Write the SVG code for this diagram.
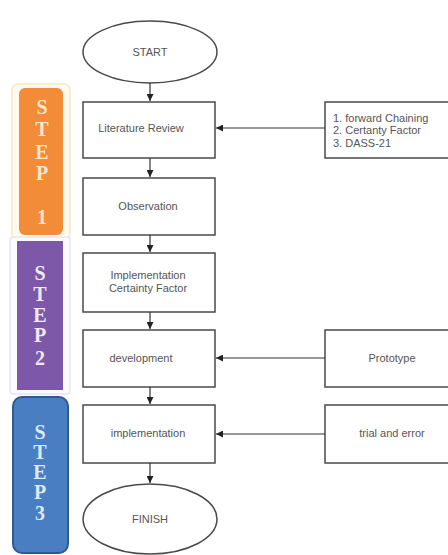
<svg xmlns="http://www.w3.org/2000/svg" width="448" height="555" viewBox="0 0 448 555">
<defs>
<style>
.box{fill:#fff;stroke:#4a4a4a;stroke-width:1.5}
.t{font-family:"Liberation Sans",Arial,sans-serif;font-size:11px;fill:#555;text-anchor:middle}
.tl{font-family:"Liberation Sans",Arial,sans-serif;font-size:11px;fill:#555}
.c{fill:none;stroke:#333;stroke-width:1.2}
.st{font-family:"Liberation Serif","Times New Roman",serif;font-size:20px;font-weight:bold;text-anchor:middle}
</style>
<marker id="ah" viewBox="0 0 10 10" refX="10" refY="5" markerWidth="7" markerHeight="7" orient="auto-start-reverse" markerUnits="userSpaceOnUse">
<path d="M0,0 L10,5 L0,10 z" fill="#222"/>
</marker>
</defs>
<rect width="448" height="555" fill="#fff"/>

<g id="step1">
<rect x="12" y="84" width="58" height="155" rx="6" fill="#fffaf0" stroke="#fbecd0" stroke-width="2"/>
<rect x="19" y="88" width="44" height="147" rx="6" fill="#f28c38"/>
<g class="st" fill="#fbe6cc">
<text x="42" y="114">S</text><text x="42" y="136">T</text><text x="42" y="159">E</text><text x="42" y="180">P</text><text x="42" y="224">1</text>
</g>
</g>
<g id="step2">
<rect x="10" y="237" width="60" height="157" rx="3" fill="#fbfbfd" stroke="#e6e6ee" stroke-width="1.5"/>
<rect x="17" y="241" width="46" height="149" fill="#7d58a8"/>
<g class="st" fill="#f2e8f7">
<text x="40" y="280">S</text><text x="40" y="301">T</text><text x="40" y="322">E</text><text x="40" y="342">P</text><text x="40" y="365">2</text>
</g>
</g>
<g id="step3">
<rect x="13" y="397" width="55" height="156" rx="9" fill="#4a7ec2" stroke="#2f5a8c" stroke-width="2"/>
<g class="st" fill="#dde9f6">
<text x="40" y="439">S</text><text x="40" y="459">T</text><text x="40" y="479">E</text><text x="40" y="499">P</text><text x="40" y="520">3</text>
</g>
</g>

<g id="start"><ellipse cx="150" cy="52" rx="67" ry="31" class="box"/><text x="150" y="56" class="t">START</text></g>
<g id="literature"><rect x="83" y="102" width="132" height="56" class="box"/><text x="141" y="132" class="t">Literature Review</text></g>
<g id="observation"><rect x="83" y="178" width="132" height="57" class="box"/><text x="148" y="210" class="t">Observation</text></g>
<g id="implcf"><rect x="83" y="253" width="132" height="59" class="box"/><text x="148" y="279" class="t">Implementation</text><text x="148" y="292" class="t">Certainty Factor</text></g>
<g id="development"><rect x="83" y="330" width="132" height="57" class="box"/><text x="141" y="362" class="t">development</text></g>
<g id="implementation"><rect x="83" y="405" width="132" height="58" class="box"/><text x="148" y="437" class="t">implementation</text></g>
<g id="finish"><ellipse cx="150" cy="519" rx="67" ry="35" class="box"/><text x="150" y="523" class="t">FINISH</text></g>

<g id="methods"><rect x="325" y="102" width="130" height="56" class="box"/><text x="333" y="122" class="tl">1. forward Chaining</text><text x="333" y="134" class="tl">2. Certanty Factor</text><text x="333" y="147" class="tl">3. DASS-21</text></g>
<g id="prototype"><rect x="325" y="330" width="130" height="57" class="box"/><text x="392" y="362" class="t">Prototype</text></g>
<g id="trial"><rect x="325" y="405" width="130" height="58" class="box"/><text x="392" y="437" class="t">trial and error</text></g>

<g id="connectors">
<line x1="150" y1="83" x2="150" y2="101" class="c" marker-end="url(#ah)"/>
<line x1="150" y1="158" x2="150" y2="177" class="c" marker-end="url(#ah)"/>
<line x1="150" y1="235" x2="150" y2="252" class="c" marker-end="url(#ah)"/>
<line x1="150" y1="312" x2="150" y2="329" class="c" marker-end="url(#ah)"/>
<line x1="150" y1="387" x2="150" y2="404" class="c" marker-end="url(#ah)"/>
<line x1="150" y1="463" x2="150" y2="483" class="c" marker-end="url(#ah)"/>
<line x1="325" y1="128" x2="216" y2="128" class="c" marker-end="url(#ah)"/>
<line x1="325" y1="358" x2="216" y2="358" class="c" marker-end="url(#ah)"/>
<line x1="325" y1="434" x2="216" y2="434" class="c" marker-end="url(#ah)"/>
</g>
</svg>
